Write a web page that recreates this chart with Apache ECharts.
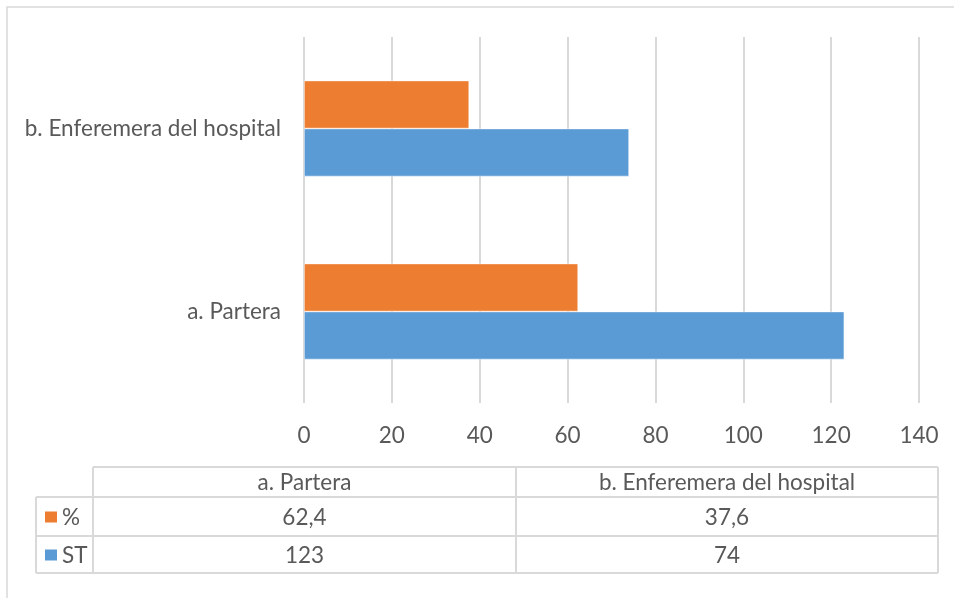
<!DOCTYPE html>
<html>
<head>
<meta charset="utf-8">
<title>Partera / Enfermera</title>
<script src="https://cdn.jsdelivr.net/npm/echarts@6/dist/echarts.min.js"></script>
<style>
  html, body { margin: 0; padding: 0; background: #fff; }
  #chart { width: 954px; height: 598px; }
</style>
</head>
<body>
<div id="chart"></div>
<script>
var categories = ['a. Partera', 'b. Enferemera del hospital'];
var seriesNames = ['%', 'ST'];
var pctValues = [62.4, 37.6];
var stValues = [123, 74];
var xMin = 0, xMax = 140, xStep = 20;

var FONT = 'Lato, "Open Sans", sans-serif';
var TXT = '#595959';
var LINE = '#d9d9d9';
var ORANGE = '#ed7d31';
var BLUE = '#5b9bd5';

function fmt(v) { return String(v).replace('.', ','); }

// tabla de datos debajo del grafico
var tbl = { left: 36, keyRight: 93, split: 516, right: 938, rows: [467, 497, 536, 573] };
var graphics = [
  { type: 'rect', shape: { x: 7, y: 7, width: 980, height: 620 }, style: { fill: 'none', stroke: LINE, lineWidth: 1.5 }, silent: true }
];
function hline(x1, x2, y) {
  graphics.push({ type: 'line', shape: { x1: x1, y1: y, x2: x2, y2: y }, style: { stroke: LINE, lineWidth: 2 } });
}
function vline(x, y1, y2) {
  graphics.push({ type: 'line', shape: { x1: x, y1: y1, x2: x, y2: y2 }, style: { stroke: LINE, lineWidth: 2 } });
}
function cellText(txt, x, y, align) {
  graphics.push({ type: 'text', x: x, y: y, style: { text: txt, fill: TXT, font: '22.5px ' + FONT, align: align || 'center', verticalAlign: 'middle' } });
}
hline(tbl.keyRight, tbl.right, tbl.rows[0]);
hline(tbl.left, tbl.right, tbl.rows[1]);
hline(tbl.left, tbl.right, tbl.rows[2]);
hline(tbl.left, tbl.right, tbl.rows[3]);
vline(tbl.left, tbl.rows[1], tbl.rows[3]);
vline(tbl.keyRight, tbl.rows[0], tbl.rows[3]);
vline(tbl.split, tbl.rows[0], tbl.rows[3]);
vline(tbl.right, tbl.rows[0], tbl.rows[3]);

var colMid = [(tbl.keyRight + tbl.split) / 2, (tbl.split + tbl.right) / 2];
for (var c = 0; c < categories.length; c++) {
  cellText(categories[c], colMid[c], (tbl.rows[0] + tbl.rows[1]) / 2 + 1);
}
var rowData = [pctValues, stValues];
var rowColors = [ORANGE, BLUE];
for (var r = 0; r < 2; r++) {
  var yMid = (tbl.rows[r + 1] + tbl.rows[r + 2]) / 2;
  graphics.push({ type: 'rect', shape: { x: 45, y: yMid - 5, width: 12, height: 11 }, style: { fill: rowColors[r] } });
  cellText(seriesNames[r], 62, yMid + 1, 'left');
  for (var c2 = 0; c2 < categories.length; c2++) {
    cellText(fmt(rowData[r][c2]), colMid[c2], yMid + 1);
  }
}

var myChart = echarts.init(document.getElementById('chart'));
var option = {
  animation: false,
  backgroundColor: '#fff',
  grid: { left: 304, right: 35, top: 37, bottom: 195, containLabel: false },
  xAxis: {
    type: 'value',
    min: xMin,
    max: xMax,
    interval: xStep,
    axisLine: { show: false },
    axisTick: { show: false },
    splitLine: { show: true, lineStyle: { color: LINE, width: 2 } },
    axisLabel: { color: TXT, fontSize: 22.5, fontFamily: FONT, margin: 21 }
  },
  yAxis: {
    type: 'category',
    data: categories,
    axisLine: { show: false },
    axisTick: { show: false },
    axisLabel: { color: TXT, fontSize: 22.5, fontFamily: FONT, margin: 23 }
  },
  series: [
    {
      name: seriesNames[0],
      type: 'bar',
      data: pctValues,
      barWidth: 48,
      barGap: '0%',
      itemStyle: { color: ORANGE, borderColor: 'rgba(255,255,255,0.6)', borderWidth: 0.75 }
    },
    {
      name: seriesNames[1],
      type: 'bar',
      data: stValues,
      barWidth: 48,
      barGap: '0%',
      itemStyle: { color: BLUE, borderColor: 'rgba(255,255,255,0.6)', borderWidth: 0.75 }
    }
  ],
  graphic: graphics
};
myChart.setOption(option);
</script>
</body>
</html>
